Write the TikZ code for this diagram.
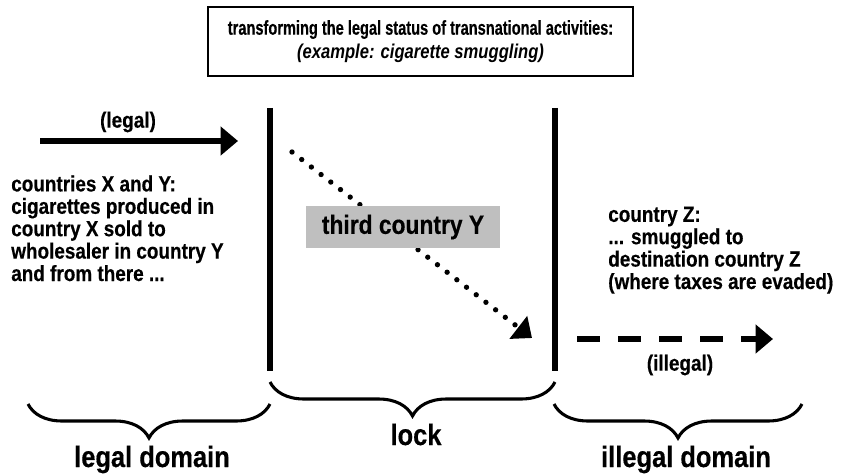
\documentclass[tikz,border=0pt]{standalone}
\usepackage{fontspec}
\setmainfont[FakeStretch=0.86, BoldFeatures={FakeBold=0.4}]{Liberation Sans}
\newfontfamily\headfont[FakeStretch=0.73, BoldFeatures={FakeBold=0.4}]{Liberation Sans}
\newfontfamily\subfont[FakeStretch=0.83, BoldFeatures={FakeBold=0.4}, ItalicFeatures={FakeBold=0.4}]{Liberation Sans}
\usetikzlibrary{arrows.meta,decorations.pathreplacing}

\tikzset{
  txt/.style={font=\bfseries\fontsize{16.5}{16.8}\selectfont, inner sep=0pt},
  headbox/.style={draw, line width=1.6pt, minimum width=318.75pt, minimum height=51.75pt,
    align=center, font=\headfont\bfseries\fontsize{15}{18}\selectfont, inner sep=0pt},
  notebox/.style={txt, align=left, anchor=base west},
  graybox/.style={fill=black!25, minimum width=145.5pt, minimum height=31.5pt, inner sep=0pt,
    font=\bfseries\fontsize{19.9}{22}\selectfont},
  wall/.style={line width=3.8pt},
  bracefig/.style={decorate, decoration={brace, mirror, amplitude=25.5pt}, line width=2.3pt},
  bigtip/.style={-{Triangle[length=13pt, width=21pt]}},
  domtxt/.style={font=\bfseries\fontsize{22.2}{24}\selectfont, inner sep=0pt, anchor=base}
}

\begin{document}
\begin{tikzpicture}[x=0.75pt, y=-0.75pt]
  \useasboundingbox (0,0) rectangle (841,474);

  \node[headbox] (head) at (420.5,41.5) {transforming the legal status of transnational activities:\\ {\subfont\bfseries\itshape (example: cigarette smuggling)}};

  \coordinate (legalTop) at (270,108);
  \coordinate (legalBot) at (270,371);
  \coordinate (illegalTop) at (555,108);
  \coordinate (illegalBot) at (555,371);
  \draw[wall] (legalTop) -- (legalBot);
  \draw[wall] (illegalTop) -- (illegalBot);

  \coordinate (legalStart) at (40,141);
  \coordinate (legalEnd) at (238,141);
  \draw[line width=4.5pt, bigtip] (legalStart) -- (legalEnd);
  \node[txt] (legalLbl) at (128,122) {(legal)};

  \node[notebox] (xy) at (11,281) {countries X and Y:\\cigarettes produced in\\country X sold to\\wholesaler in country Y\\and from there ...};

  \coordinate (dotStart) at (292,152);
  \coordinate (dotEnd) at (532,338);
  \draw[line width=4pt, line cap=round, dash pattern=on 0pt off 9.2pt, bigtip] (dotStart) -- (dotEnd);
  \node[graybox] (third) at (403,227) {third country Y};

  \node[notebox] (z) at (608,289) {country Z:\\... smuggled to\\destination country Z\\(where taxes are evaded)};

  \coordinate (dashStart) at (577,339);
  \coordinate (dashEnd) at (773,339);
  \draw[line width=4.5pt, dash pattern=on 17pt off 13.75pt, bigtip] (dashStart) -- (dashEnd);
  \node[txt] (illegalLbl) at (680,365) {(illegal)};

  \coordinate (legalL) at (28,404);
  \coordinate (legalR) at (270,404);
  \coordinate (lockL) at (270,382);
  \coordinate (lockR) at (555,382);
  \coordinate (illegalL) at (554,404);
  \coordinate (illegalR) at (802,404);
  \draw[bracefig] (legalL) -- (legalR);
  \draw[bracefig] (lockL) -- (lockR);
  \draw[bracefig] (illegalL) -- (illegalR);

  \node[domtxt] (legalDom) at (152,467) {legal domain};
  \node[domtxt] (lockLbl) at (416,445) {lock};
  \node[domtxt] (illegalDom) at (686,467) {illegal domain};
\end{tikzpicture}
\end{document}
